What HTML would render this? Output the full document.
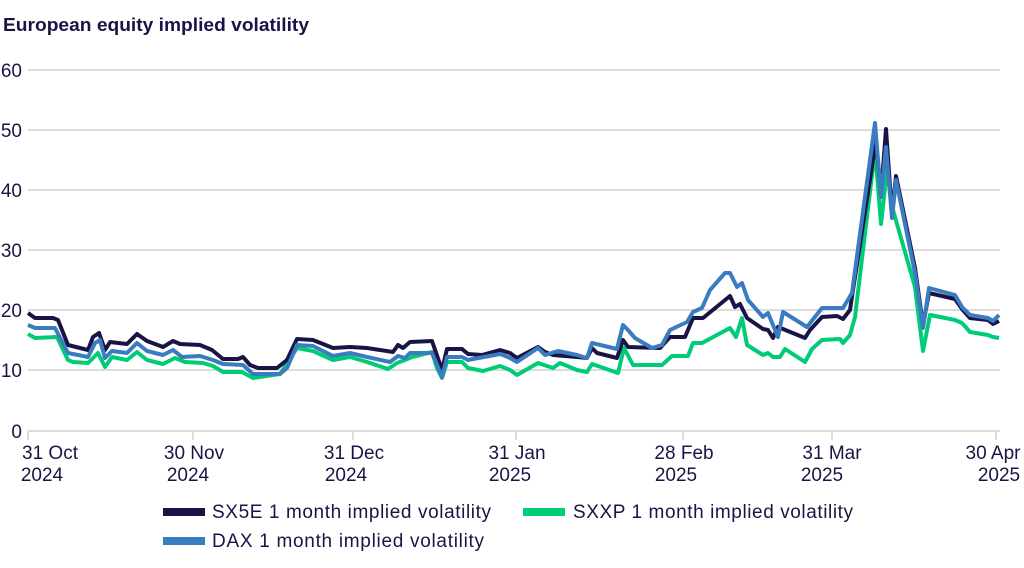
<!DOCTYPE html>
<html><head><meta charset="utf-8"><style>
body{margin:0;background:#fff;width:1024px;height:568px;overflow:hidden}
svg{display:block;font-family:"Liberation Sans",sans-serif}
</style></head><body>
<svg width="1024" height="568" viewBox="0 0 1024 568">
<text x="3" y="31" font-size="18" font-weight="bold" fill="#1a1446" textLength="306" lengthAdjust="spacingAndGlyphs">European equity implied volatility</text>
<g stroke="#dcdcdc" stroke-width="2">
<line x1="28" x2="1000" y1="70" y2="70"/><line x1="28" x2="1000" y1="130" y2="130"/>
<line x1="28" x2="1000" y1="190" y2="190"/><line x1="28" x2="1000" y1="250" y2="250"/>
<line x1="28" x2="1000" y1="310" y2="310"/><line x1="28" x2="1000" y1="370" y2="370"/>
<line x1="28" x2="1000" y1="431" y2="431"/>
<line x1="28" x2="28" y1="431" y2="440"/><line x1="193" x2="193" y1="431" y2="440"/>
<line x1="353" x2="353" y1="431" y2="440"/><line x1="516" x2="516" y1="431" y2="440"/>
<line x1="683" x2="683" y1="431" y2="440"/><line x1="832" x2="832" y1="431" y2="440"/>
<line x1="996" x2="996" y1="431" y2="440"/>
</g>
<g font-size="19" fill="#1a1446" text-anchor="end">
<text x="22" y="77">60</text><text x="22" y="137">50</text><text x="22" y="197">40</text>
<text x="22" y="257">30</text><text x="22" y="317">20</text><text x="22" y="377">10</text><text x="22" y="438">0</text>
</g>
<g font-size="19" fill="#1a1446" text-anchor="middle">
<text x="50" y="459">31 Oct</text><text x="42" y="481">2024</text>
<text x="194" y="459">30 Nov</text><text x="188" y="481">2024</text>
<text x="354" y="459">31 Dec</text><text x="346" y="481">2024</text>
<text x="517" y="459">31 Jan</text><text x="510" y="481">2025</text>
<text x="684" y="459">28 Feb</text><text x="676" y="481">2025</text>
<text x="832" y="459">31 Mar</text><text x="822" y="481">2025</text>
<text x="993" y="459">30 Apr</text><text x="999" y="481">2025</text>
</g>
<g fill="none" stroke-width="4" stroke-linejoin="round">
<polyline stroke="#00cc78" points="28,334 35,338 57,337 68,360 73,362 88,363 98,353 105,367 112,357 127,360 137,352 147,360 163,364 175,358 185,362 203,363 213,366 223,372 242,372 253,378 280,374 297,348 313,351 333,360 350,357 367,362 388,369 397,363 405,360 412,357 432,352 437,368 442,378 447,362 462,362 468,368 483,371 500,366 510,370 517,375 538,363 553,368 560,363 577,370 587,372 592,364 618,373 624,348 633,365 662,365 672,356 688,356 693,343 702,343 730,328 736,337 742,318 747,345 763,355 768,353 773,357 780,357 785,349 805,362 812,349 822,340 840,339 843,343 850,335 855,317 875,150 881,224 887,170 893,210 915,287 923,351 930,315 955,320 962,323 970,332 988,335 993,337 999,338"/>
<polyline stroke="#1a1446" points="28,313 35,318 53,318 58,320 68,345 88,350 93,337 99,333 105,350 110,342 127,344 137,334 147,341 163,347 173,341 180,344 200,345 212,350 223,359 238,359 243,357 250,365 258,368 277,368 287,360 297,339 313,340 333,348 350,347 367,348 380,350 393,352 398,345 403,348 410,342 432,341 442,370 447,349 462,349 468,354 482,355 500,350 510,353 517,358 538,347 545,352 553,355 577,357 587,358 592,348 597,353 617,358 623,340 628,347 660,348 670,337 685,337 693,318 703,318 730,296 735,307 740,304 747,318 763,329 768,330 773,338 778,327 805,338 810,330 822,317 837,316 843,319 850,310 853,290 876,140 881,195 886,129 892,215 896,176 915,268 923,325 929,293 955,299 962,309 970,318 988,320 993,324 999,321"/>
<polyline stroke="#3a7cc0" points="28,325 35,328 55,328 68,353 88,357 95,343 100,340 105,358 112,351 127,353 137,343 147,351 163,355 173,350 182,357 200,356 213,360 223,364 243,365 253,374 280,374 287,368 297,345 313,346 333,356 350,353 367,357 390,362 398,356 405,358 410,353 432,353 442,377 447,357 462,357 468,360 500,354 508,357 517,362 538,348 545,355 558,351 577,355 587,358 592,343 617,349 623,325 628,330 635,338 652,348 662,345 670,330 687,322 693,312 702,308 710,290 725,273 730,273 737,287 742,283 748,300 763,317 768,313 778,337 783,312 807,327 822,308 843,308 852,293 875,123 881,197 886,147 892,218 896,180 915,273 923,328 929,288 955,295 962,307 970,315 988,318 993,321 999,315"/>
</g>
<g font-size="19" fill="#1a1446">
<line x1="163" x2="205" y1="512" y2="512" stroke="#1a1446" stroke-width="8"/>
<text x="212" y="518" textLength="279">SX5E 1 month implied volatility</text>
<line x1="523" x2="565" y1="512" y2="512" stroke="#00cc78" stroke-width="8"/>
<text x="573" y="518" textLength="280">SXXP 1 month implied volatility</text>
<line x1="163" x2="205" y1="541" y2="541" stroke="#3a7cc0" stroke-width="8"/>
<text x="212" y="547" textLength="272">DAX 1 month implied volatility</text>
</g>
</svg>
</body></html>
